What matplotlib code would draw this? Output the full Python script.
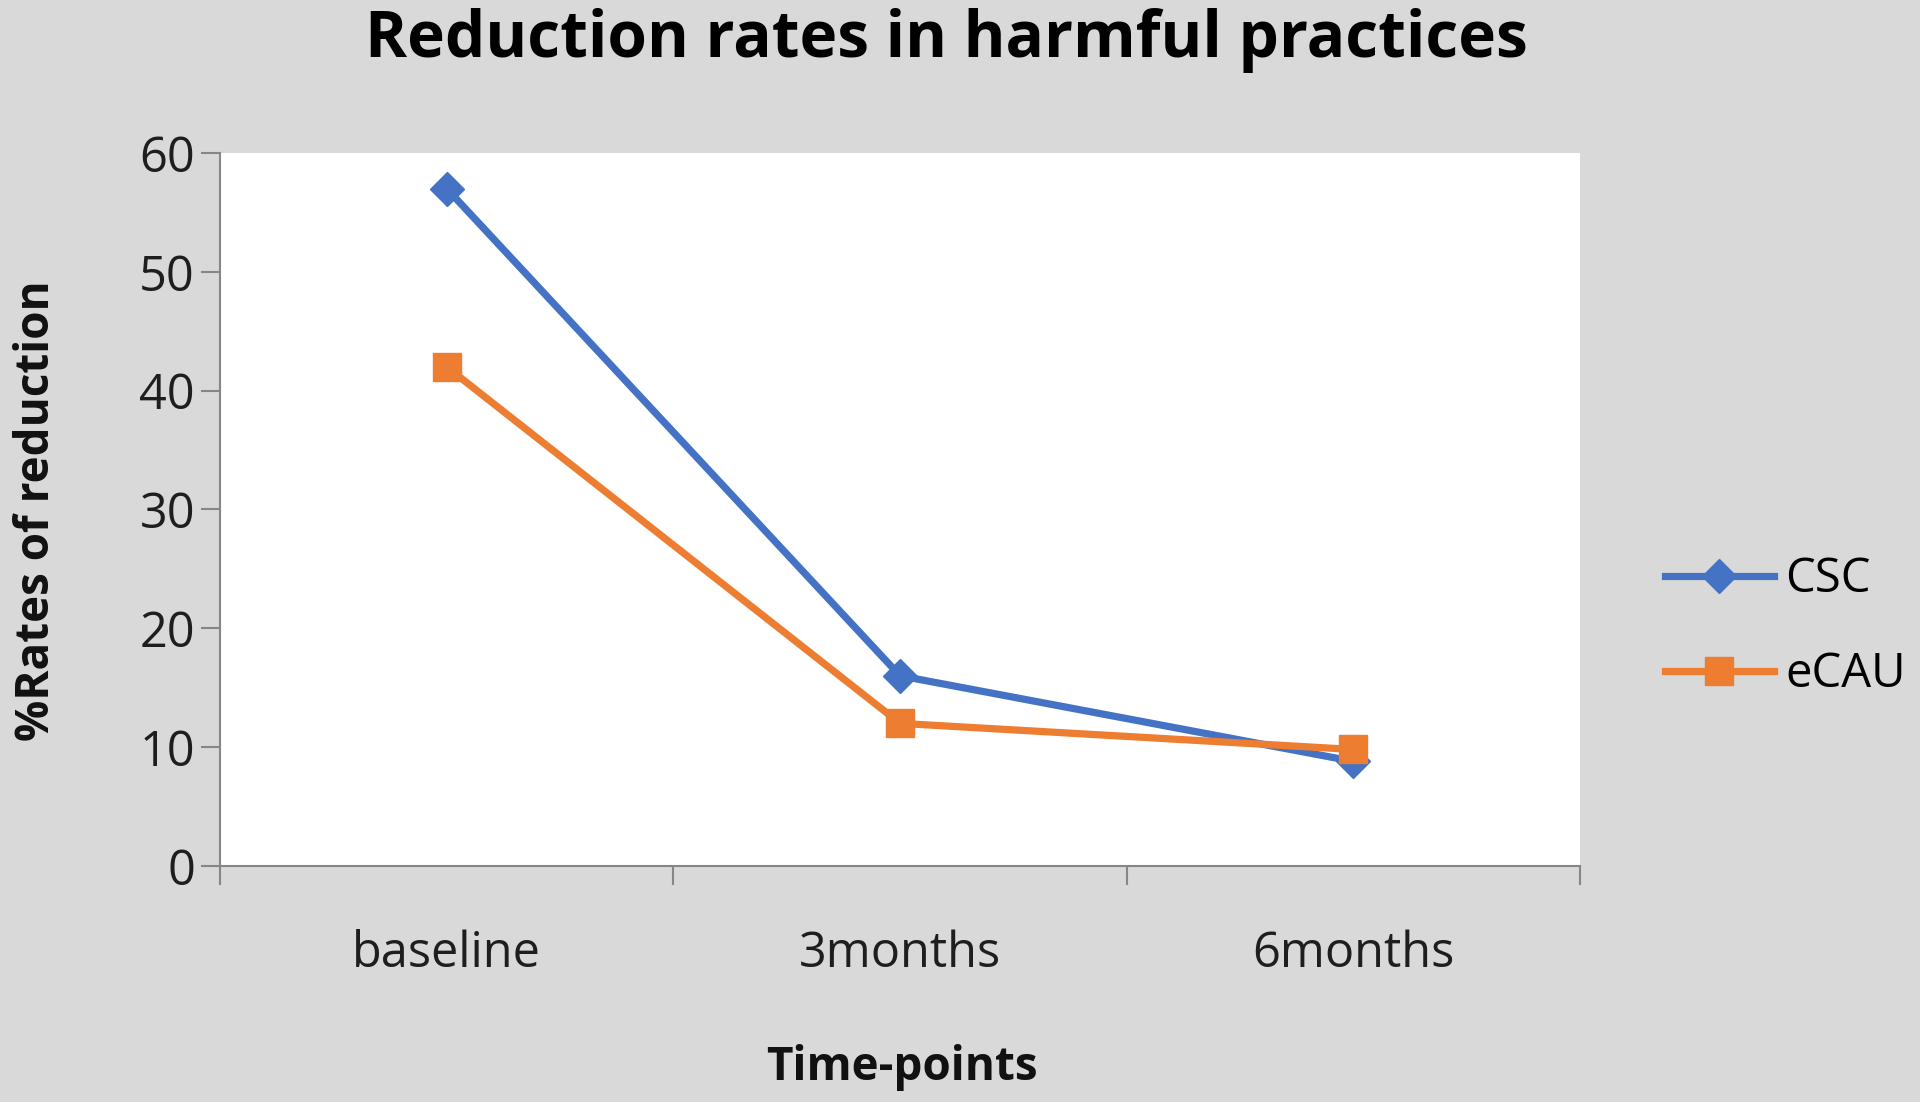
import matplotlib.pyplot as plt
import numpy as np

# data
time_points = ["baseline", "3months", "6months"]
csc = [57, 16, 8.8]
ecau = [42, 12, 9.8]

plt.rcParams["font.family"] = ["Open Sans", "DejaVu Sans"]

fig = plt.figure(figsize=(19.2, 11.02), dpi=100, facecolor="#d9d9d9")
ax = fig.add_axes([0.1146, 0.2142, 0.7084, 0.6470])
ax.set_facecolor("white")

x = np.arange(len(time_points))
ax.plot(x, csc, color="#4472C4", lw=5.2, marker="D", ms=17, label="CSC")
ax.plot(x, ecau, color="#ED7D31", lw=5.2, marker="s", ms=20, label="eCAU")

ax.set_xlim(-0.5, len(time_points) - 0.5)
ax.set_ylim(0, 60)
ax.set_yticks(range(0, 61, 10))
ax.set_xticks(np.arange(-0.5, len(time_points), 1.0))
ax.set_xticklabels([])
ax.set_xticks(x, minor=True)
ax.set_xticklabels(time_points, minor=True)
ax.tick_params(axis="x", which="major", length=14, width=1.5, color="#868686")
ax.tick_params(axis="x", which="minor", length=0, pad=46, labelsize=35, labelcolor="#1e1e1e")
ax.tick_params(axis="y", length=14, width=1.5, color="#868686", pad=4, labelsize=35, labelcolor="#1e1e1e")

for s in ["top", "right"]:
    ax.spines[s].set_visible(False)
for s in ["left", "bottom"]:
    ax.spines[s].set_color("#868686")
    ax.spines[s].set_linewidth(1.5)

fig.text(0.493, 0.963, "Reduction rates in harmful practices", ha="center", va="center",
         fontsize=46, fontweight="bold", color="black")
fig.text(0.47, 0.031, "Time-points", ha="center", va="center", fontsize=33, fontweight="bold",
         color="#111111")
fig.text(0.019, 0.537, "%Rates of reduction", ha="center", va="center", rotation=90,
         fontsize=33, fontweight="bold", color="#111111")

leg = ax.legend(loc="center left", bbox_to_anchor=(1.0625, 0.335), frameon=False, fontsize=34,
                handlelength=2.3, labelspacing=1.0, handletextpad=0.25,
                borderaxespad=0, borderpad=0)
for t in leg.get_texts():
    t.set_color("black")

fig.savefig("out.png", dpi=100, facecolor=fig.get_facecolor())
